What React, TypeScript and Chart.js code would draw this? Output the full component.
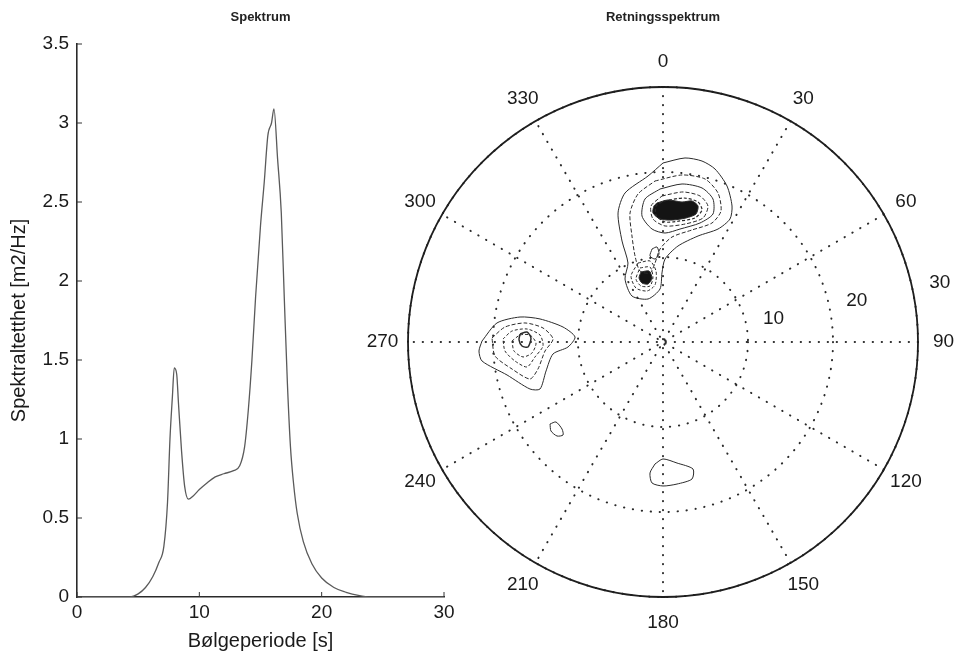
import React, { useEffect, useRef } from 'react';
import { Chart, registerables } from 'chart.js';

Chart.register(...registerables);

const FONT = '"Liberation Sans", Arial, Helvetica, sans-serif';

// ---------- Left panel: Spektrum ----------
const spectrumTitle = 'Spektrum';
const xAxisTitle = 'Bølgeperiode [s]';
const yAxisTitle = 'Spektraltetthet [m2/Hz]';
const periods = [0, 4.3, 5.0, 5.6, 6.2, 6.7, 7.1, 7.4, 7.6, 7.8, 7.95, 8.15, 8.3, 8.55, 8.8, 9.1, 9.5, 10.0, 10.6, 11.3, 12.0, 12.8, 13.3, 13.7, 14.0, 14.3, 14.6, 15.0, 15.3, 15.6, 15.9, 16.1, 16.4, 16.7, 16.95, 17.2, 17.45, 17.7, 18.0, 18.5, 19.2, 20.0, 21.0, 22.0, 23.0, 24.0, 30];
const spectralDensity = [0, 0, 0.02, 0.06, 0.13, 0.22, 0.32, 0.6, 1.0, 1.27, 1.45, 1.41, 1.22, 0.92, 0.7, 0.62, 0.64, 0.68, 0.72, 0.76, 0.78, 0.8, 0.83, 0.95, 1.18, 1.5, 1.9, 2.35, 2.62, 2.92, 3.0, 3.09, 2.77, 2.43, 1.88, 1.35, 0.95, 0.72, 0.53, 0.35, 0.21, 0.12, 0.06, 0.03, 0.01, 0, 0];
const xTicks = [0, 10, 20, 30];
const yTicks = [0, 0.5, 1, 1.5, 2, 2.5, 3, 3.5];

// ---------- Right panel: Retningsspektrum ----------
const polarTitle = 'Retningsspektrum';
const angleTicks = [0, 30, 60, 90, 120, 150, 180, 210, 240, 270, 300, 330];
const spokeAngles = [0, 30, 60, 90, 120, 150];
const ringValues = [10, 20, 30];
const radialLabels = [10, 20, 30];
const rMax = 30;

// contour lines as [east, north] components (period, s)
const mainOuter: [number, number][] = [[0, 21.06], [2.59, 21.65], [4.59, 21.29], [6.12, 20.35], [7.53, 18.35], [8.12, 16.0], [7.88, 14.47], [6.47, 13.29], [4.12, 12.47], [1.76, 11.29], [0.24, 9.76], [-0.12, 8.12], [-0.35, 6.24], [-1.76, 5.06], [-3.65, 5.41], [-4.47, 7.41], [-4.12, 9.29], [-4.82, 11.88], [-5.29, 15.18], [-4.47, 17.53], [-1.76, 19.53]];
const mainLevel2: [number, number][] = [[-0.94, 18.94], [2.24, 19.65], [4.94, 19.18], [6.47, 17.53], [6.82, 15.41], [5.76, 14.0], [3.41, 13.18], [1.06, 12.35], [-0.35, 10.94], [-0.94, 9.29], [-1.53, 8.12], [-2.71, 8.35], [-3.29, 10.12], [-3.65, 12.47], [-3.88, 15.18], [-2.94, 17.41]];
const mainLevel3: [number, number][] = [[-0.35, 18.0], [2.24, 18.59], [4.59, 18.12], [5.88, 16.82], [5.88, 15.06], [4.35, 14.0], [2.0, 13.29], [0.24, 12.82], [-1.29, 13.29], [-2.47, 14.82], [-2.12, 16.82]];
const mainLevel4: [number, number][] = [[-0.12, 17.18], [2.35, 17.65], [4.35, 17.18], [5.29, 16.0], [4.71, 14.59], [2.59, 13.88], [0.24, 13.65], [-1.18, 14.47], [-1.41, 16.0]];
const mainLevel5: [number, number][] = [[0.12, 16.59], [2.47, 16.94], [4.12, 16.47], [4.59, 15.53], [3.76, 14.59], [2.0, 14.24], [0.24, 14.12], [-0.82, 14.94], [-0.82, 16.0]];
const mainCore: [number, number][] = [[-0.71, 16.35], [0.59, 16.71], [2.24, 16.47], [3.41, 16.59], [4.12, 16.0], [3.88, 15.06], [2.71, 14.59], [1.06, 14.35], [-0.35, 14.47], [-1.18, 15.18], [-1.06, 16.0]];
const secondLevel1: [number, number][] = [[-2.94, 9.29], [-1.53, 9.53], [-0.82, 8.35], [-0.94, 6.71], [-1.88, 6.0], [-3.18, 6.35], [-3.76, 7.76]];
const secondLevel2: [number, number][] = [[-2.71, 8.71], [-1.53, 8.82], [-1.18, 7.65], [-1.53, 6.59], [-2.59, 6.59], [-3.18, 7.41]];
const secondCore: [number, number][] = [[-2.59, 8.24], [-1.65, 8.35], [-1.29, 7.53], [-1.76, 6.82], [-2.47, 6.94], [-2.82, 7.53]];
const bridgeLoop: [number, number][] = [[-1.29, 10.94], [-0.71, 11.18], [-0.47, 10.35], [-0.94, 9.76], [-1.53, 10.12]];
const westLevel1: [number, number][] = [[-21.29, 0.12], [-19.53, 2.24], [-16.82, 2.94], [-14.47, 2.71], [-11.76, 1.76], [-10.35, 0.59], [-11.18, -0.59], [-12.94, -1.41], [-13.76, -3.41], [-14.47, -5.53], [-15.65, -5.53], [-18.35, -3.88], [-21.29, -2.24], [-21.65, -1.06]];
const westLevel2: [number, number][] = [[-20.12, 0.47], [-18.59, 1.76], [-16.24, 2.24], [-14.12, 1.65], [-12.94, 0.35], [-13.88, -1.06], [-14.71, -3.18], [-15.65, -4.35], [-17.76, -3.18], [-19.76, -1.65]];
const westLevel3: [number, number][] = [[-18.82, 0.35], [-17.76, 1.29], [-16.0, 1.53], [-14.47, 0.82], [-14.12, -0.47], [-15.06, -1.76], [-16.0, -2.94], [-17.41, -2.24], [-18.59, -1.06]];
const westLevel4: [number, number][] = [[-17.76, 0.12], [-16.82, 0.82], [-15.65, 0.82], [-14.94, -0.12], [-15.41, -1.29], [-16.47, -1.76], [-17.53, -1.06]];
const westLevel5: [number, number][] = [[-16.82, 0.94], [-16.0, 1.18], [-15.53, 0.47], [-15.88, -0.59], [-16.59, -0.47], [-16.94, 0.24]];
const southwestLoop: [number, number][] = [[-13.29, -9.65], [-12.59, -9.41], [-11.88, -10.24], [-11.76, -10.94], [-12.47, -11.06], [-13.18, -10.47]];
const southLoop: [number, number][] = [[-0.94, -14.35], [0, -13.76], [1.65, -14.24], [3.53, -14.94], [3.41, -16.12], [1.65, -16.71], [0, -16.94], [-1.29, -16.59], [-1.53, -15.41]];

const contourStyles = [
  { pts: mainOuter, dash: [], width: 1, filled: false },
  { pts: mainLevel2, dash: [4, 2], width: 1, filled: false },
  { pts: mainLevel3, dash: [], width: 1, filled: false },
  { pts: mainLevel4, dash: [4, 2], width: 1, filled: false },
  { pts: mainLevel5, dash: [3, 2], width: 1.2, filled: false },
  { pts: mainCore, dash: [], width: 1, filled: true },
  { pts: secondLevel1, dash: [3, 2], width: 1, filled: false },
  { pts: secondLevel2, dash: [3, 2], width: 1, filled: false },
  { pts: secondCore, dash: [], width: 1, filled: true },
  { pts: bridgeLoop, dash: [], width: 1, filled: false },
  { pts: westLevel1, dash: [], width: 1, filled: false },
  { pts: westLevel2, dash: [4, 2], width: 1, filled: false },
  { pts: westLevel3, dash: [3, 2], width: 1, filled: false },
  { pts: westLevel4, dash: [3, 2], width: 1, filled: false },
  { pts: westLevel5, dash: [], width: 1.5, filled: false },
  { pts: southwestLoop, dash: [], width: 1, filled: false },
  { pts: southLoop, dash: [], width: 1, filled: false },
];

const inwardTicks = {
  id: 'inwardTicks',
  afterDatasetsDraw(chart: any) {
    const { ctx, chartArea, scales } = chart;
    const x = scales.x;
    const y = scales.y;
    ctx.save();
    ctx.strokeStyle = '#333';
    ctx.lineWidth = 1;
    for (const v of xTicks) {
      const px = x.getPixelForValue(v);
      ctx.beginPath();
      ctx.moveTo(px, chartArea.bottom);
      ctx.lineTo(px, chartArea.bottom - 5);
      ctx.stroke();
    }
    for (const v of yTicks) {
      const py = y.getPixelForValue(v);
      ctx.beginPath();
      ctx.moveTo(chartArea.left, py);
      ctx.lineTo(chartArea.left + 5, py);
      ctx.stroke();
    }
    ctx.restore();
  },
};

const polarGrid = {
  id: 'polarGrid',
  beforeDatasetsDraw(chart: any) {
    const { ctx, scales } = chart;
    const x = scales.x;
    const y = scales.y;
    const cx = x.getPixelForValue(0);
    const cy = y.getPixelForValue(0);
    const toPx = (deg: number, r: number) => {
      const a = (deg * Math.PI) / 180;
      return [x.getPixelForValue(r * Math.sin(a)), y.getPixelForValue(r * Math.cos(a))];
    };
    ctx.save();
    // dotted rings
    ctx.strokeStyle = '#2a2a2a';
    ctx.lineWidth = 2;
    ctx.lineCap = 'round';
    ctx.setLineDash([0.3, 8.7]);
    for (const r of ringValues) {
      const rx = x.getPixelForValue(r) - cx;
      const ry = cy - y.getPixelForValue(r);
      ctx.beginPath();
      ctx.ellipse(cx, cy, rx, ry, 0, 0, Math.PI * 2);
      ctx.stroke();
    }
    // dotted spokes
    for (const d of spokeAngles) {
      const [x1, y1] = toPx(d, rMax);
      const [x2, y2] = toPx(d + 180, rMax);
      ctx.beginPath();
      ctx.moveTo(x1, y1);
      ctx.lineTo(x2, y2);
      ctx.stroke();
    }
    // solid outer circle
    ctx.setLineDash([]);
    ctx.lineCap = 'butt';
    ctx.lineWidth = 1.8;
    ctx.strokeStyle = '#1e1e1e';
    ctx.beginPath();
    ctx.ellipse(cx, cy, x.getPixelForValue(rMax) - cx, cy - y.getPixelForValue(rMax), 0, 0, Math.PI * 2);
    ctx.stroke();
    // labels
    ctx.fillStyle = '#1a1a1a';
    ctx.font = `19px ${FONT}`;
    ctx.textAlign = 'center';
    ctx.textBaseline = 'middle';
    for (const d of angleTicks) {
      const [lx, ly] = toPx(d, rMax * 1.1);
      ctx.fillText(String(d), lx, ly);
    }
    for (const r of radialLabels) {
      const [lx, ly] = toPx(78, r + 3.3);
      ctx.fillText(String(r), lx, ly);
    }
    ctx.restore();
  },
};

function SpectrumChart() {
  const ref = useRef<HTMLCanvasElement | null>(null);
  useEffect(() => {
    if (!ref.current) return;
    const chart = new Chart(ref.current, {
      type: 'line',
      data: {
        datasets: [
          {
            data: periods.map((t, i) => ({ x: t, y: spectralDensity[i] })),
            borderColor: '#5a5a5a',
            borderWidth: 1.3,
            pointRadius: 0,
            cubicInterpolationMode: 'monotone',
            fill: false,
          },
        ],
      },
      options: {
        animation: false,
        responsive: false,
        events: [],
        layout: { padding: { left: 0, right: 26, top: 0, bottom: 0 } },
        plugins: {
          legend: { display: false },
          tooltip: { enabled: false },
          title: {
            display: true,
            text: spectrumTitle,
            fullSize: false,
            color: '#222',
            font: { family: FONT, size: 13, weight: 'bold' },
            padding: { top: 10, bottom: 18.4 },
          },
        },
        scales: {
          x: {
            type: 'linear',
            min: 0,
            max: 30,
            afterBuildTicks: (s: any) => {
              s.ticks = xTicks.map((v) => ({ value: v }));
            },
            afterFit: (s: any) => {
              s.height = 57;
            },
            grid: { display: true, drawOnChartArea: false, drawTicks: false },
            border: { display: true, color: '#2a2a2a', width: 1.6 },
            ticks: {
              color: '#1a1a1a',
              font: { family: FONT, size: 19 },
              padding: 4,
              maxRotation: 0,
              callback: (v: any) => String(v),
            },
            title: {
              display: true,
              text: xAxisTitle,
              color: '#1a1a1a',
              font: { family: FONT, size: 20 },
              padding: { top: 0, bottom: 1 },
            },
          },
          y: {
            type: 'linear',
            min: 0,
            max: 3.5,
            afterBuildTicks: (s: any) => {
              s.ticks = yTicks.map((v) => ({ value: v }));
            },
            afterFit: (s: any) => {
              s.width = 77;
            },
            grid: { display: true, drawOnChartArea: false, drawTicks: false },
            border: { display: true, color: '#2a2a2a', width: 1.6 },
            ticks: {
              color: '#1a1a1a',
              font: { family: FONT, size: 19 },
              padding: 8,
              callback: (v: any) => String(v),
            },
            title: {
              display: true,
              text: yAxisTitle,
              color: '#1a1a1a',
              font: { family: FONT, size: 20 },
              padding: { top: 7, bottom: 0 },
            },
          },
        },
      } as any,
      plugins: [inwardTicks],
    });
    return () => chart.destroy();
  }, []);
  return (
    <canvas
      ref={ref}
      width={470}
      height={654}
      style={{ position: 'absolute', left: 0, top: 0, width: 470, height: 654 }}
    />
  );
}

function PolarChart() {
  const ref = useRef<HTMLCanvasElement | null>(null);
  useEffect(() => {
    if (!ref.current) return;
    const datasets = contourStyles.map((c) => ({
      data: [...c.pts, c.pts[0]].map(([e, n]) => ({ x: e, y: n })),
      showLine: true,
      borderColor: '#2b2b2b',
      borderWidth: c.width,
      borderDash: c.dash,
      pointRadius: 0,
      tension: 0.25,
      fill: c.filled ? 'shape' : false,
      backgroundColor: c.filled ? '#141414' : 'transparent',
    }));
    const chart = new Chart(ref.current, {
      type: 'scatter',
      data: { datasets },
      options: {
        animation: false,
        responsive: false,
        events: [],
        layout: { padding: { left: 68, right: 36, top: 0, bottom: 57 } },
        plugins: {
          legend: { display: false },
          tooltip: { enabled: false },
          title: {
            display: true,
            text: polarTitle,
            fullSize: false,
            color: '#222',
            font: { family: FONT, size: 13, weight: 'bold' },
            padding: { top: 10, bottom: 61.4 },
          },
        },
        scales: {
          x: { type: 'linear', min: -rMax, max: rMax, display: false },
          y: { type: 'linear', min: -rMax, max: rMax, display: false },
        },
      } as any,
      plugins: [polarGrid],
    });
    return () => chart.destroy();
  }, []);
  return (
    <canvas
      ref={ref}
      width={614}
      height={654}
      style={{ position: 'absolute', left: 340, top: 0, width: 614, height: 654 }}
    />
  );
}

export default function App() {
  return (
    <div style={{ position: 'absolute', left: 0, top: 0, width: 954, height: 654, background: '#fff', overflow: 'hidden' }}>
      <SpectrumChart />
      <PolarChart />
    </div>
  );
}
